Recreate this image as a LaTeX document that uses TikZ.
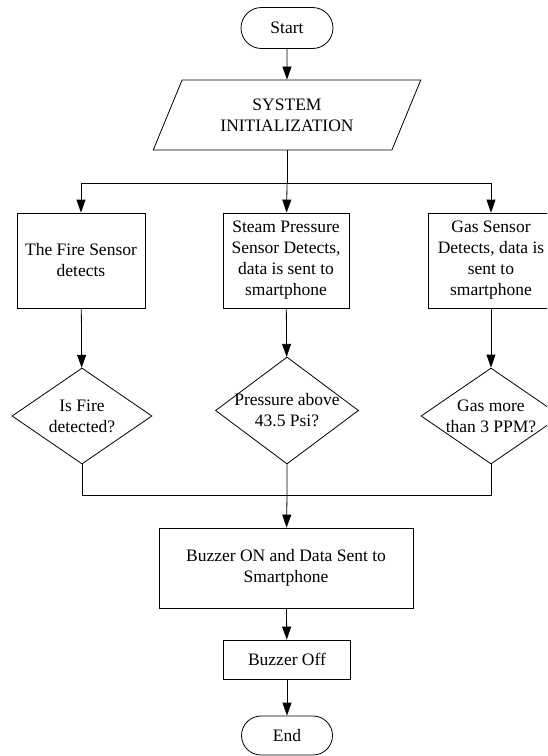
\documentclass[tikz,border=0pt]{standalone}
\usepackage{fontspec}
\setmainfont{Liberation Serif}
\usepackage{tikz}
\usetikzlibrary{shapes,arrows.meta}

\begin{document}
\begin{tikzpicture}[x=1pt,y=-1pt,line width=0.8pt,
    every node/.style={font=\fontsize{17.5}{21}\selectfont,align=center},
    terminal/.style={rounded rectangle,draw,minimum width=96pt,minimum height=41pt,inner sep=2pt},
    ioBox/.style={trapezium,trapezium left angle=64,trapezium right angle=116,trapezium stretches=true,draw,minimum width=268pt,minimum height=70pt},
    procBox/.style={rectangle,draw,inner sep=2pt},
    decision/.style={diamond,draw,inner sep=-15pt,minimum width=140pt,minimum height=96pt},
    flowArrow/.style={-{Triangle[length=13pt,width=9pt]}}]
  \useasboundingbox (0,0) rectangle (547,756);
  \clip (0,0) rectangle (547,756);
  \node[terminal] (start) at (287,28) {Start};
  \node[ioBox] (init) at (287,115) {SYSTEM\\INITIALIZATION};
  \coordinate (split) at (287,183);
  \node[procBox,minimum width=128pt,minimum height=95pt] (fire) at (81,260.5) {The Fire Sensor\\detects};
  \node[procBox,minimum width=126pt,minimum height=95pt] (steam) at (286,260.5) {Steam Pressure\\Sensor Detects,\\data is sent to\\smartphone};
  \node[procBox,minimum width=126pt,minimum height=95pt] (gas) at (491,260.5) {Gas Sensor\\Detects, data is\\sent to\\smartphone};
  \node[decision] (fireQ) at (82,416) {Is Fire\\detected?};
  \node[decision,minimum width=143pt,minimum height=107pt] (pressQ) at (287,410.5) {Pressure above\\43.5 Psi?};
  \node[decision] (gasQ) at (491,416) {Gas more\\than 3 PPM?};
  \coordinate (join) at (287,495);
  \node[procBox,minimum width=254pt,minimum height=80pt] (buzzOn) at (286,568) {Buzzer ON and Data Sent to\\Smartphone};
  \node[procBox,minimum width=127pt,minimum height=39pt] (buzzOff) at (287,659.5) {Buzzer Off};
  \node[terminal,minimum width=95pt,minimum height=39pt] (end) at (287,735.5) {End};
  \draw[flowArrow] (start) -- (init);
  \draw (init) -- (split);
  \draw[flowArrow] (split) -| (fire);
  \draw[flowArrow] (split) -- (steam);
  \draw[flowArrow] (split) -| (gas);
  \draw[flowArrow] (fire) -- (fireQ);
  \draw[flowArrow] (steam) -- (pressQ);
  \draw[flowArrow] (gas) -- (gasQ);
  \draw (fireQ) |- (join);
  \draw (gasQ) |- (join);
  \draw[flowArrow] (pressQ) -- (join) -- (buzzOn);
  \draw[flowArrow] (buzzOn) -- (buzzOff);
  \draw[flowArrow] (buzzOff) -- (end);
\end{tikzpicture}
\end{document}
